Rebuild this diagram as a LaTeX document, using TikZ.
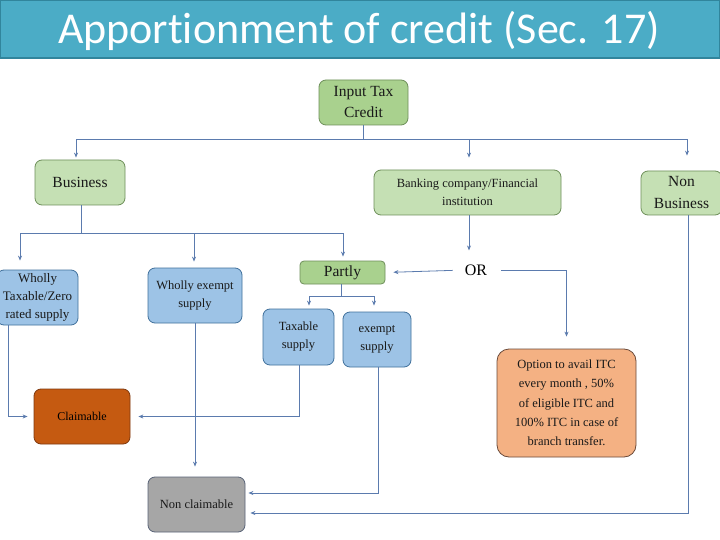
\documentclass[tikz,border=0pt]{standalone}
\usepackage{fontspec}
\setmainfont{Liberation Serif}
\newfontfamily\titlefont[Ligatures=NoCommon]{Carlito}
\usetikzlibrary{arrows.meta,calc}
\definecolor{titlebg}{HTML}{4BACC6}
\definecolor{titleline}{HTML}{31859C}
\definecolor{grfill}{HTML}{C5E0B4}
\definecolor{grdark}{HTML}{A9D18E}
\definecolor{grline}{HTML}{6E8F5A}
\definecolor{blfill}{HTML}{9DC3E6}
\definecolor{blline}{HTML}{41719C}
\definecolor{clfill}{HTML}{C55A11}
\definecolor{clline}{HTML}{7F3A10}
\definecolor{opfill}{HTML}{F4B183}
\definecolor{opline}{HTML}{6B4A3A}
\definecolor{ncfill}{HTML}{A6A6A6}
\definecolor{ncline}{HTML}{5A6478}
\definecolor{conn}{HTML}{5B7BAE}
\tikzset{
  box/.style={rectangle, rounded corners=7pt, draw, line width=0.8pt, align=center, inner sep=0pt, text=black!90},
  greenbox/.style={box, fill=grfill, draw=grline},
  greendark/.style={box, fill=grdark, draw=grline},
  bluebox/.style={box, fill=blfill, draw=blline},
  claimbox/.style={box, fill=clfill, draw=clline},
  optbox/.style={box, fill=opfill, draw=opline},
  ncbox/.style={box, fill=ncfill, draw=ncline},
  conline/.style={draw=conn, line width=0.8pt},
  conarr/.style={conline, -{Stealth[length=5pt,width=4pt]}},
  fs/.style n args={2}{font=\fontsize{#1}{#2}\selectfont},
}
\begin{document}
\begin{tikzpicture}[x=1pt,y=-1pt]
\useasboundingbox (0,0) rectangle (720,540);
\fill[white] (0,0) rectangle (720,540);
% title
\node[rectangle, fill=titlebg, draw=titleline, line width=1.5pt, minimum width=720pt, minimum height=58pt, inner sep=0pt] (titlebar) at (360,29) {};
\node[text=white, font=\titlefont\fontsize{44}{50}\selectfont, anchor=base] (title) at (359,44) {Apportionment of credit (Sec. 17)};
% nodes
\node[greendark, fs={15.5}{21}, minimum width=89pt, minimum height=45pt] (itc) at (363.5,102.5) {Input Tax\\Credit};
\node[greenbox, fs={15.5}{21}, minimum width=90pt, minimum height=45pt] (bus) at (80,182.5) {Business};
\node[greenbox, fs={12.5}{18}, minimum width=187pt, minimum height=45pt] (bank) at (467.5,192.5) {Banking company/Financial\\institution};
\node[greenbox, fs={15.5}{22}, minimum width=81pt, minimum height=44pt] (nonbus) at (681.5,193) {Non\\Business};
\node[bluebox, fs={13}{18}, minimum width=81pt, minimum height=55pt] (wtax) at (37.5,297.5) {Wholly\\Taxable/Zero\\rated supply};
\node[bluebox, fs={12.5}{18}, minimum width=94pt, minimum height=55pt] (wex) at (195,295.5) {Wholly exempt\\supply};
\node[greendark, fs={15.5}{18}, minimum width=85pt, minimum height=23pt, rounded corners=4pt] (partly) at (342.5,272.5) {Partly};
\node[bluebox, fs={12.5}{18}, minimum width=71pt, minimum height=56pt] (tax) at (298.5,337) {Taxable\\supply};
\node[bluebox, fs={12.5}{18}, minimum width=68pt, minimum height=55pt] (ex) at (377,339.5) {exempt\\supply};
\node[fs={16}{18}, inner sep=0pt] (or) at (476,270) {OR};
\node[optbox, fs={12.5}{19.3}, minimum width=139pt, minimum height=108pt, rounded corners=12pt] (opt) at (566.5,403) {Option to avail ITC\\every month , 50\%\\of eligible ITC and\\100\% ITC in case of\\branch transfer.};
\node[claimbox, fs={12}{14}, minimum width=96pt, minimum height=55pt, text=black] (claim) at (82,416.5) {Claimable};
\node[ncbox, fs={12.5}{14}, minimum width=97pt, minimum height=55pt] (noncl) at (196.5,504.5) {Non claimable};
% connectors from ITC
\draw[conline] (itc.south) -- (363.5,139) coordinate (j1);
\draw[conarr, shorten >=2pt] (j1) -| ([xshift=-4pt]bus.north);
\draw[conarr, shorten >=12pt] (j1) -| ([xshift=1.5pt]bank.north);
\draw[conarr, shorten >=15pt] (j1) -| ([xshift=5.5pt]nonbus.north);
% business branches
\draw[conline] ([xshift=1pt]bus.south) -- (81,233) coordinate (j2);
\draw[conarr, shorten >=9pt] (j2) -| ([xshift=-17.5pt]wtax.north);
\draw[conarr, shorten >=6pt] (j2) -| ([xshift=-1pt]wex.north);
\draw[conarr, shorten >=4pt] (j2) -| ([xshift=0.5pt]partly.north);
% banking
\draw[conarr, shorten >=14pt] ([xshift=1.5pt]bank.south) -- ([xshift=-7pt]or.north);
\draw[conarr, shorten <=12pt, shorten >=8pt] (or.west) -- (partly.east);
\draw[conarr, shorten <=14pt, shorten >=12pt] (or.east) -| (opt.north);
% partly
\draw[conline] ([xshift=-1.5pt]partly.south) -- (341,296) coordinate (j3);
\draw[conarr, shorten >=3pt] (j3) -| ([xshift=10.5pt]tax.north);
\draw[conarr, shorten >=6pt] (j3) -| ([xshift=-3pt]ex.north);
% to claimable
\draw[conarr, shorten >=6pt] ([xshift=-29.5pt]wtax.south) |- (claim.west);
\draw[conarr, shorten >=8pt] ([xshift=0.5pt]tax.south) |- (claim.east);
% to non claimable
\draw[conarr, shorten >=10pt] (wex.south) -- ([xshift=-1.5pt]noncl.north);
\draw[conarr, shorten >=3pt] ([xshift=1pt]ex.south) |- ([yshift=11.5pt]noncl.east);
\draw[conarr, shorten >=5pt] ([xshift=6.5pt]nonbus.south) |- ([yshift=-8.5pt]noncl.east);
\end{tikzpicture}
\end{document}
